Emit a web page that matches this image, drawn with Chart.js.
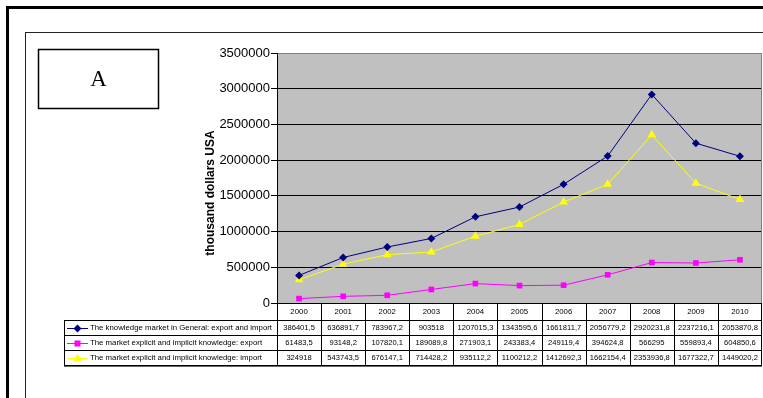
<!DOCTYPE html>
<html><head><meta charset="utf-8">
<script src="https://cdn.jsdelivr.net/npm/chart.js@4/dist/chart.umd.min.js"></script>
<style>html,body{margin:0;padding:0;background:#fff;}#wrap{width:763px;height:398px;position:relative}</style>
</head><body><div id="wrap"><canvas id="c" width="763" height="398"></canvas></div>
<script>
const years = ['2000','2001','2002','2003','2004','2005','2006','2007','2008','2009','2010'];
const seriesNames = [
  'The knowledge market in General: export and import',
  'The market explicit and implicit knowledge: export',
  'The market explicit and implicit knowledge: import'
];
const totalMarket = [386401.5, 636891.7, 783967.2, 903518, 1207015.3, 1343595.6, 1661811.7, 2056779.2, 2920231.8, 2237216.1, 2053870.8];
const explicitExport = [61483.5, 93148.2, 107820.1, 189089.8, 271903.1, 243383.4, 249119.4, 394624.8, 566295, 559893.4, 604850.6];
const explicitImport = [324918, 543743.5, 676147.1, 714428.2, 935112.2, 1100212.2, 1412692.3, 1662154.4, 2353936.8, 1677322.7, 1449020.2];
const yMin = 0, yMax = 3500000, yStep = 500000;
const yTitle = 'thousand dollars USA';
const panelLabel = 'A';

const colors = ['#000080', '#FF00FF', '#FFFF00'];
const styles = ['rectRot', 'rect', 'triangle'];
const allSeries = [totalMarket, explicitExport, explicitImport];
const FONT = 'Arial, "Liberation Sans", sans-serif';

function fmt(v){ return String(v).replace('.', ','); }

function drawMarker(ctx, style, x, y, color){
  ctx.save();
  ctx.fillStyle = color; ctx.strokeStyle = color; ctx.lineWidth = 1;
  ctx.beginPath();
  if (style === 'rectRot') {
    const r = 4;
    ctx.moveTo(x, y - r); ctx.lineTo(x + r, y); ctx.lineTo(x, y + r); ctx.lineTo(x - r, y);
  } else if (style === 'rect') {
    ctx.rect(x - 3, y - 3, 6, 6);
  } else {
    ctx.moveTo(x, y - 4.5); ctx.lineTo(x + 4.5, y + 3); ctx.lineTo(x - 4.5, y + 3);
  }
  ctx.closePath(); ctx.fill();
  ctx.restore();
}

const decor = {
  id: 'decor',
  beforeDraw(chart){
    const ctx = chart.ctx, a = chart.chartArea;
    ctx.save();
    ctx.fillStyle = '#fff'; ctx.fillRect(0, 0, chart.width, chart.height);
    ctx.strokeStyle = '#000'; ctx.lineWidth = 3;
    ctx.strokeRect(7.5, 7.5, 800, 500);
    ctx.lineWidth = 1; ctx.strokeStyle = '#222';
    ctx.strokeRect(25.5, 32.5, 800, 500);
    ctx.lineWidth = 1.5; ctx.strokeStyle = '#000';
    ctx.strokeRect(38.5, 49.5, 120, 59);
    ctx.fillStyle = '#000';
    ctx.font = '23px "Times New Roman", "Liberation Serif", serif';
    ctx.textAlign = 'center'; ctx.textBaseline = 'alphabetic';
    ctx.fillText(panelLabel, 98.5, 86);
    ctx.fillStyle = '#C0C0C0';
    ctx.fillRect(a.left, a.top, a.right - a.left, a.bottom - a.top);
    ctx.restore();
  },
  afterDraw(chart){
    const ctx = chart.ctx, a = chart.chartArea, xs = chart.scales.x;
    ctx.save();
    ctx.strokeStyle = '#808080'; ctx.lineWidth = 1;
    ctx.beginPath(); ctx.moveTo(a.right - 0.5, a.top); ctx.lineTo(a.right - 0.5, a.bottom); ctx.stroke();
    ctx.fillStyle = '#000';
    ctx.font = 'bold 12px ' + FONT;
    ctx.translate(211, 193); ctx.rotate(-Math.PI/2);
    ctx.textAlign = 'center'; ctx.textBaseline = 'middle';
    ctx.fillText(yTitle, 0, 0);
    ctx.restore();

    ctx.save();
    const cw = (xs.right - xs.left) / years.length;
    const top = a.bottom, rowH = [16.5, 15.5, 15, 15];
    const rowsY = [top];
    for (let i = 0; i < rowH.length; i++) rowsY.push(rowsY[i] + rowH[i]);
    const legL = 64;
    ctx.strokeStyle = '#000'; ctx.lineWidth = 1;
    ctx.beginPath();
    ctx.moveTo(xs.left, Math.round(rowsY[0]) + 0.5); ctx.lineTo(xs.right, Math.round(rowsY[0]) + 0.5);
    for (let r = 1; r < rowsY.length; r++) {
      const y = Math.round(rowsY[r]) + 0.5;
      ctx.moveTo(legL, y); ctx.lineTo(xs.right, y);
    }
    ctx.moveTo(legL + 0.5, Math.round(rowsY[1])); ctx.lineTo(legL + 0.5, Math.round(rowsY[4]) + 1);
    for (let i = 0; i <= years.length; i++) {
      const x = Math.round(xs.getPixelForValue(i) - cw/2) + 0.5;
      ctx.moveTo(Math.min(x, xs.right - 0.5), Math.round(rowsY[0])); ctx.lineTo(Math.min(x, xs.right - 0.5), Math.round(rowsY[4]) + 1);
    }
    ctx.stroke();
    ctx.strokeStyle = '#666';
    ctx.beginPath(); ctx.moveTo(legL, Math.round(rowsY[4]) + 1.5); ctx.lineTo(xs.right, Math.round(rowsY[4]) + 1.5); ctx.stroke();

    ctx.fillStyle = '#000';
    ctx.textAlign = 'center'; ctx.textBaseline = 'middle';
    ctx.font = '7.8px ' + FONT;
    years.forEach((y, i) => ctx.fillText(y, xs.getPixelForValue(i), (rowsY[0] + rowsY[1]) / 2 + 1));
    allSeries.forEach((s, r) => {
      const cy = (rowsY[r+1] + rowsY[r+2]) / 2 + 0.5;
      ctx.font = '7.6px ' + FONT;
      s.forEach((v, i) => ctx.fillText(fmt(v), xs.getPixelForValue(i), cy));
      ctx.strokeStyle = colors[r]; ctx.lineWidth = 1;
      ctx.beginPath(); ctx.moveTo(67, Math.round(cy) + 0.5); ctx.lineTo(88, Math.round(cy) + 0.5); ctx.stroke();
      drawMarker(ctx, styles[r], 77.5, Math.round(cy) + 0.5, colors[r]);
      ctx.fillStyle = '#000'; ctx.textAlign = 'left';
      ctx.font = '7.8px ' + FONT;
      ctx.fillText(seriesNames[r], 90, cy);
      ctx.textAlign = 'center';
    });
    ctx.restore();
  }
};

new Chart(document.getElementById('c'), {
  type: 'line',
  data: {
    labels: years,
    datasets: allSeries.map((s, i) => ({
      label: seriesNames[i],
      data: s,
      borderColor: colors[i],
      backgroundColor: colors[i],
      borderWidth: 1,
      pointStyle: styles[i],
      pointRadius: i === 2 ? 5 : 4,
      pointBorderWidth: 0,
      pointHoverRadius: 4,
      tension: 0,
      fill: false
    }))
  },
  options: {
    responsive: false,
    animation: false,
    devicePixelRatio: 1,
    layout: { autoPadding: false, padding: { left: 199, top: 53, right: 1, bottom: 95 } },
    plugins: { legend: { display: false }, tooltip: { enabled: false }, title: { display: false } },
    scales: {
      x: { display: false, offset: true, grid: { display: false } },
      y: {
        min: yMin, max: yMax,
        afterFit(scale){ scale.width = 78; },
        ticks: { stepSize: yStep, color: '#000', padding: 1, font: { size: 13, family: FONT },
          callback: v => String(v) },
        grid: { color: c => (c.tick && c.tick.value === yMax) ? '#808080' : '#000', lineWidth: 1, tickLength: 6, tickColor: '#000' },
        border: { display: true, color: '#000', width: 1 },
        title: { display: false }
      }
    }
  },
  plugins: [decor]
});
</script>
</body></html>
